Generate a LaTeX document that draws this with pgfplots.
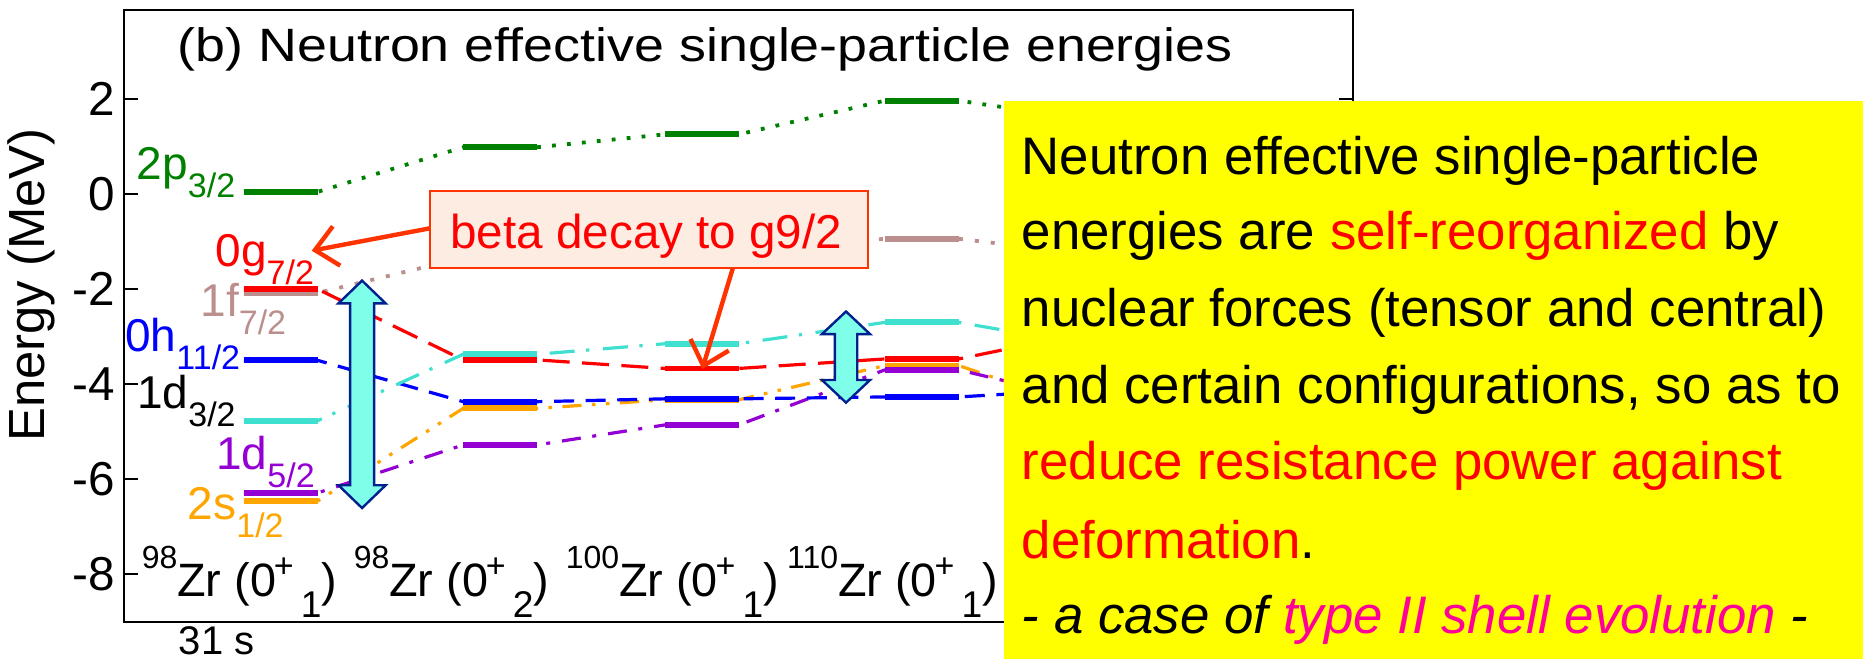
\documentclass[border=0pt]{standalone}
\usepackage{pgfplots}
\pgfplotsset{compat=1.18}
\usepackage{pgfplotstable}
\usepackage{fontspec}
\setmainfont{Liberation Sans}
\newfontfamily\titlefont{Liberation Sans}[FakeStretch=1.15]
\usetikzlibrary{arrows.meta}

\definecolor{cG}{HTML}{008000}
\definecolor{cR}{HTML}{FF0000}
\definecolor{cF}{HTML}{BC8F8F}
\definecolor{cH}{HTML}{0000FF}
\definecolor{cD}{HTML}{40E0D0}
\definecolor{cP}{HTML}{9400D3}
\definecolor{cS}{HTML}{FFA500}
\definecolor{arrfill}{HTML}{7FFFEA}
\definecolor{arrline}{HTML}{00208F}
\definecolor{boxfill}{HTML}{FDECE1}
\definecolor{boxline}{HTML}{FF3300}
\definecolor{noteyellow}{HTML}{FFFF00}
\definecolor{notepink}{HTML}{FF0099}

\newcommand{\fs}[1]{\fontsize{#1}{#1}\selectfont}
% orbital label: name with lowered j value
\newcommand{\orb}[2]{{\fs{11.5}#1}\raisebox{-4.5pt}{\fs{8.5}#2}}
% nucleus label with state
\newcommand{\nuc}[2]{\fs{11.7}\raisebox{7pt}{\fs{8}#1}Zr (0\kern-0.6pt\raisebox{4.9pt}{\fs{8.5}+}\kern1.8pt\raisebox{-5.1pt}{\fs{9.3}#2})}

% effective single-particle energies (MeV); every level is listed at its left and right end
\pgfplotstableread{
x      g      r      f      h      dt     df     s
0.827  0.05  -2.00  -2.08  -3.50  -4.77  -6.29  -6.46
1.173  0.05  -2.00  -2.08  -3.50  -4.77  -6.29  -6.46
1.854  0.99  -3.49  -1.34  -4.37  -3.37  -5.28  -4.51
2.200  0.99  -3.49  -1.34  -4.37  -3.37  -5.28  -4.51
2.797  1.26  -3.67  -1.20  -4.31  -3.15  -4.86  -4.33
3.143  1.26  -3.67  -1.20  -4.31  -3.15  -4.86  -4.33
3.827  1.97  -3.47  -0.94  -4.27  -2.70  -3.70  -3.61
4.173  1.97  -3.47  -0.94  -4.27  -2.70  -3.70  -3.61
4.853  1.52  -2.84  -1.30  -4.09  -3.23  -4.43  -4.64
5.199  1.52  -2.84  -1.30  -4.09  -3.23  -4.43  -4.64
}\esp

% a level: horizontal bar starting at the left end of each level
\pgfplotsset{
  level/.style={mark=none, each nth point=2,
    quiver={u=0.346, v=0},
    draw=#1, line width=1.45pt, line cap=butt},
  link/.style={#1, line width=0.8pt, line cap=butt},
}

\newcommand{\dblarrow}[6]{%
  \filldraw[fill=arrfill, draw=arrline, line width=0.6pt, line join=miter]
    (axis cs:#1,#2)
    -- ([xshift=#5,yshift=-#6]axis cs:#1,#2)
    -- ([xshift=#4,yshift=-#6]axis cs:#1,#2)
    -- ([xshift=#4,yshift=#6]axis cs:#1,#3)
    -- ([xshift=#5,yshift=#6]axis cs:#1,#3)
    -- (axis cs:#1,#3)
    -- ([xshift=-#5,yshift=#6]axis cs:#1,#3)
    -- ([xshift=-#4,yshift=#6]axis cs:#1,#3)
    -- ([xshift=-#4,yshift=-#6]axis cs:#1,#2)
    -- ([xshift=-#5,yshift=-#6]axis cs:#1,#2) -- cycle;}

\begin{document}
\begin{tikzpicture}
\useasboundingbox (0pt,0pt) rectangle (465.75pt,-164.75pt);
\begin{axis}[
  at={(30.875pt,-155.5pt)}, anchor=south west,
  scale only axis, width=307.375pt, height=153pt,
  xmin=0.264, xmax=6.018, ymin=-9.01, ymax=3.88,
  xtick=\empty, ytick={-8,-6,...,2},
  ytick pos=both, yticklabel pos=left,
  tick align=inside, major tick length=3.5pt,
  tick style={line width=0.5pt, black},
  axis line style={line width=0.5pt},
  yticklabel style={font=\fs{11.9}, inner sep=0pt, xshift=-1.9pt},
  /pgf/number format/assume math mode=true,
]
% connecting lines between the levels
\addplot[link=cG, line width=0.95pt, dash pattern=on 0.95pt off 2.8pt] table[x=x,y=g]{\esp};
\addplot[link=cF, line width=0.95pt, dash pattern=on 1pt off 3pt] table[x=x,y=f]{\esp};
\addplot[link=cS, dash pattern=on 4.8pt off 2.6pt on 0.9pt off 2.6pt on 0.9pt off 2.6pt] table[x=x,y=s]{\esp};
\addplot[link=cP, dash pattern=on 4.75pt off 2.9pt on 1pt off 3pt] table[x=x,y=df]{\esp};
\addplot[link=cH, dash pattern=on 5pt off 2.9pt] table[x=x,y=h]{\esp};
\addplot[link=cD, dash pattern=on 6.25pt off 2.9pt on 0.8pt off 3.4pt] table[x=x,y=dt]{\esp};
\addplot[link=cR, dash pattern=on 6.75pt off 3.1pt] table[x=x,y=r]{\esp};
% the levels themselves
\addplot[level=cG] table[x=x,y=g]{\esp};
\addplot[level=cF] table[x=x,y=f]{\esp};
\addplot[level=cS] table[x=x,y=s]{\esp};
\addplot[level=cP] table[x=x,y=df]{\esp};
\addplot[level=cH] table[x=x,y=h]{\esp};
\addplot[level=cD] table[x=x,y=dt]{\esp};
\addplot[level=cR] table[x=x,y=r]{\esp};
% gaps
\dblarrow{1.3804}{-1.82}{-6.61}{3pt}{5.9pt}{5.7pt}
\dblarrow{3.6453}{-2.47}{-4.39}{2.8pt}{6pt}{5.65pt}
\end{axis}

\begin{scope}[x=0.25pt, y=-0.25pt]
% title and axis label
\node[anchor=base west, inner sep=0pt] at (177,61.7) {\titlefont\fs{11.7}(b) Neutron effective single-particle energies};
\node[rotate=90, inner sep=0pt] at (31,285) {\fs{12.7}Energy (MeV)};
% orbital names
\node[anchor=base west, inner sep=0pt, text=cG] at (136,180) {\orb{2p}{3/2}};
\node[anchor=base west, inner sep=0pt, text=cR] at (214.7,266.7) {\orb{0g}{7/2}};
\node[anchor=base west, inner sep=0pt, text=cF] at (199.7,317) {\orb{1f}{7/2}};
\node[anchor=base west, inner sep=0pt, text=cH] at (124.5,351.7) {\orb{0h}{11/2}};
\node[anchor=base west, inner sep=0pt, text=black] at (136.4,408.3) {\orb{1d}{3/2}};
\node[anchor=base west, inner sep=0pt, text=cP] at (215.5,470) {\orb{1d}{5/2}};
\node[anchor=base west, inner sep=0pt, text=cS] at (187,520) {\orb{2s}{1/2}};
% nuclei
\node[anchor=base west, inner sep=0pt] at (141,596.7) {\nuc{98}{1}};
\node[anchor=base west, inner sep=0pt] at (353,596.7) {\nuc{98}{2}};
\node[anchor=base west, inner sep=0pt] at (565,596.7) {\nuc{100}{1}};
\node[anchor=base west, inner sep=0pt] at (786.4,596.7) {\nuc{110}{1}};
\node[anchor=base west, inner sep=0pt] at (178,655) {\fs{10}31 s};
% beta decay note
\filldraw[fill=boxfill, draw=boxline, line width=0.5pt] (430,190.7) rectangle (868.3,268.3);
\node[anchor=base west, inner sep=0pt, text=cR] at (449.7,249) {\fs{11.9}beta decay to g9/2};
\draw[boxline, line width=1.1pt, -{Straight Barb[length=5.5pt,width=10pt,line width=1.1pt]}] (430,228.3) -- (311.7,250.7);
\draw[boxline, line width=1.1pt, -{Straight Barb[length=5.5pt,width=10pt,line width=1.1pt]}] (732.8,268.3) -- (702.3,369);
% summary note
\fill[noteyellow] (1004,101) rectangle (1863,659);
\begin{scope}[every node/.style={anchor=base west, inner sep=0pt, font=\fs{13.2}}]
\node at (1021,175) {Neutron effective single-particle};
\node at (1021,250) {energies are \textcolor{cR}{self-reorganized} by};
\node at (1021,326.7) {nuclear forces (tensor and central)};
\node at (1021,403.3) {and certain configurations, so as to};
\node at (1021,480) {\textcolor{cR}{reduce resistance power against}};
\node at (1021,558.3) {\textcolor{cR}{deformation}.};
\node at (1021,633.3) {\itshape - a case of \textcolor{notepink}{type II shell evolution} -};
\end{scope}
\end{scope}
\end{tikzpicture}
\end{document}
